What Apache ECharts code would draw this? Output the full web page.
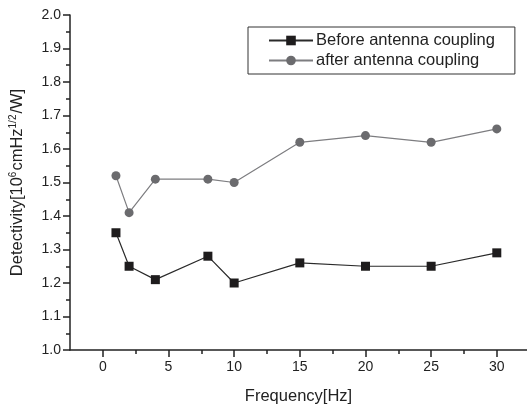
<!DOCTYPE html>
<html>
<head>
<meta charset="utf-8">
<script src="https://cdn.jsdelivr.net/npm/echarts@6/dist/echarts.min.js"></script>
<style>
html, body { margin: 0; padding: 0; background: #fff; }
#chart { width: 527px; height: 410px; }
</style>
</head>
<body>
<div id="chart"></div>
<script>
// 频率 (Hz)
const frequency = [1, 2, 4, 8, 10, 15, 20, 25, 30];
// 耦合前后的探测率
const beforeCoupling = [1.35, 1.25, 1.21, 1.28, 1.20, 1.26, 1.25, 1.25, 1.29];
const afterCoupling = [1.52, 1.41, 1.51, 1.51, 1.50, 1.62, 1.64, 1.62, 1.66];
// 刻度
const xMajorTicks = [0, 5, 10, 15, 20, 25, 30];
const xMinorTicks = [2.5, 7.5, 12.5, 17.5, 22.5, 27.5];
const seriesNames = ['Before antenna coupling', 'after antenna coupling'];

const FONT = 'Liberation Sans, Arial, sans-serif';
const axisColor = '#222';

let chart = echarts.init(document.getElementById('chart'));

let option = {
    animation: false,
    textStyle: {fontFamily: FONT},
    grid: {left: 70, top: 15, right: 0, bottom: 55},
    legend: {
        orient: 'vertical',
        left: 248,
        top: 27,
        padding: [5, 20, 5, 20],
        itemGap: 3,
        itemWidth: 44,
        itemHeight: 12,
        borderColor: '#333',
        borderWidth: 1,
        textStyle: {fontSize: 16.5, color: '#222', fontFamily: FONT, padding: [0, 0, 0, -2]},
        data: seriesNames
    },
    xAxis: [
        {
            type: 'value',
            min: -2.5,
            max: 32.3,
            splitLine: {show: false},
            axisLine: {lineStyle: {color: axisColor, width: 1.5}},
            axisTick: {customValues: xMajorTicks, length: 7, lineStyle: {color: axisColor, width: 1.5}},
            axisLabel: {customValues: xMajorTicks, fontSize: 14, color: '#222', margin: 10, fontFamily: FONT},
            name: 'Frequency[Hz]',
            nameLocation: 'middle',
            nameGap: 38,
            nameTextStyle: {fontSize: 16.5, color: '#222', fontFamily: FONT}
        },
        {
            // 次刻度
            type: 'value',
            position: 'bottom',
            min: -2.5,
            max: 32.3,
            splitLine: {show: false},
            axisLine: {show: false},
            axisTick: {customValues: xMinorTicks, length: 4, lineStyle: {color: axisColor, width: 1.5}},
            axisLabel: {show: false}
        }
    ],
    yAxis: {
        type: 'value',
        min: 1.0,
        max: 2.0,
        interval: 0.1,
        splitLine: {show: false},
        axisLine: {show: true, onZero: false, lineStyle: {color: axisColor, width: 1.5}},
        axisTick: {length: 7, lineStyle: {color: axisColor, width: 1.5}},
        minorTick: {show: true, splitNumber: 2, length: 4, lineStyle: {color: axisColor, width: 1.5}},
        axisLabel: {
            fontSize: 14, color: '#222', margin: 9, fontFamily: FONT,
            formatter: v => v.toFixed(1)
        },
        name: '{a|Detectivity[10}{s|6}{a|cmHz}{s|1/2}{a|/W]}',
        nameLocation: 'middle',
        nameRotate: 90,
        nameGap: 43,
        nameTextStyle: {
            rich: {
                a: {fontSize: 16.5, color: '#222', fontFamily: FONT},
                s: {fontSize: 10, color: '#222', fontFamily: FONT, padding: [0, 1, 9, 0]}
            }
        }
    },
    series: [
        {
            name: seriesNames[0],
            type: 'line',
            data: frequency.map((f, i) => [f, beforeCoupling[i]]),
            symbol: 'rect',
            symbolSize: 9,
            itemStyle: {color: '#1e1c1d'},
            lineStyle: {color: '#2a2a2a', width: 1.2}
        },
        {
            name: seriesNames[1],
            type: 'line',
            data: frequency.map((f, i) => [f, afterCoupling[i]]),
            symbol: 'circle',
            symbolSize: 9,
            itemStyle: {color: '#6b6b6e'},
            lineStyle: {color: '#7d7d80', width: 1.2}
        }
    ]
};

chart.setOption(option);
</script>
</body>
</html>
